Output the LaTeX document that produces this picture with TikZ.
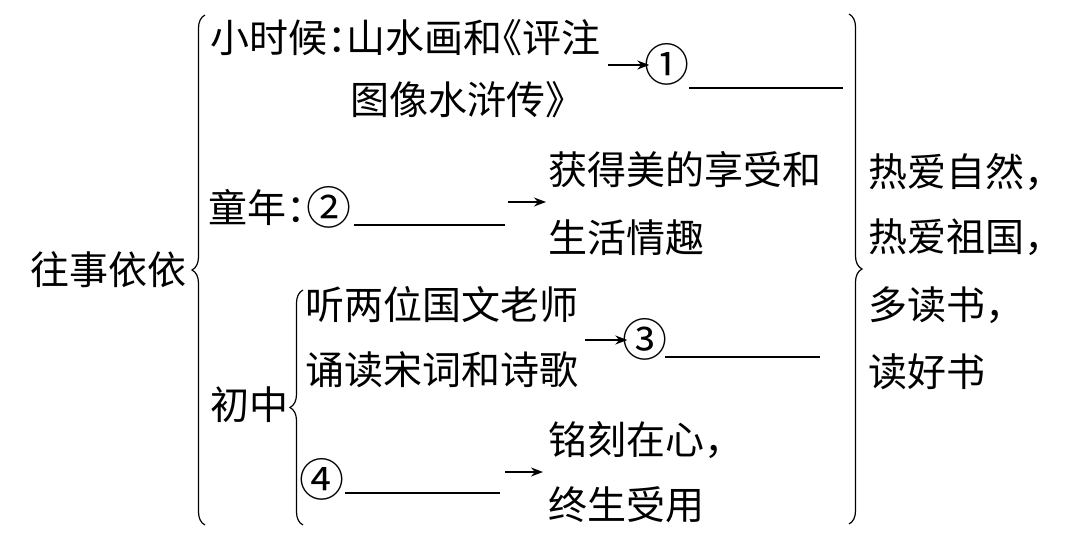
\documentclass[tikz,border=0pt]{standalone}
\usepackage{fontspec}
\setmainfont{Noto Sans CJK SC}
\usetikzlibrary{decorations.pathreplacing,arrows.meta}
\newcommand\hwpunct[1]{{\addfontfeature{RawFeature=+halt}#1}}
\begin{document}
\begin{tikzpicture}[x=1pt,y=-1pt,
  txt/.style={anchor=west,inner sep=0pt,font=\fontsize{39}{44}\selectfont,text height=31pt,text depth=2pt},
  num/.style={inner sep=0pt,font=\fontsize{45}{50}\selectfont,text height=35.8pt,text depth=2.2pt},
  brc/.style={draw,line width=1.2pt,decorate,decoration={brace,amplitude=13pt}},
  arr/.style={draw,line width=1.4pt,-{Stealth[length=12pt,width=9pt]}},
  blank/.style={draw,line width=1.4pt}]
\useasboundingbox (0,0) rectangle (1087,551);
\fill[white] (0,0) rectangle (1087,551);
% left column
\node[txt] (root) at (30,270) {往事依依};
\draw[brc] (205,525) -- (205,15);
% row 1
\node[txt] (r1a) at (210,38) {小时候\hwpunct{：}山水画和\hwpunct{《}评注};
\node[txt] (r1b) at (350,100) {图像水浒传》};
\coordinate (a1s) at (608,65);
\node[num] (c1) at (667,65) {①};
\coordinate (u1a) at (689,88);
\coordinate (u1b) at (843,88);
\draw[arr] (a1s) -- ([xshift=5pt]c1.west);
\draw[blank] (u1a) -- (u1b);
% row 2
\node[txt] (r2) at (208,208) {童年\hwpunct{：}};
\node[num,anchor=west] (c2) at ([xshift=0.5pt]r2.east) {②};
\coordinate (u2a) at (354,225);
\coordinate (u2b) at (505,225);
\draw[blank] (u2a) -- (u2b);
\node[txt] (r2ra) at (548,170) {获得美的享受和};
\node[txt] (r2rb) at (548,238) {生活情趣};
\coordinate (a2s) at (508,202);
\coordinate (a2e) at (546,202);
\draw[arr] (a2s) -- (a2e);
% row 3
\node[txt] (r3) at (210,405) {初中};
\draw[brc] (303,525) -- (303,290);
\node[txt] (r3a) at (305,305) {听两位国文老师};
\node[txt] (r3b) at (305,370) {诵读宋词和诗歌};
\coordinate (a3s) at (585,340);
\node[num] (c3) at (645,340) {③};
\draw[arr] (a3s) -- ([xshift=5pt]c3.west);
\coordinate (u3a) at (665,357);
\coordinate (u3b) at (820,357);
\draw[blank] (u3a) -- (u3b);
\node[num] (c4) at (322,480) {④};
\coordinate (u4a) at (345,493);
\coordinate (u4b) at (500,493);
\draw[blank] (u4a) -- (u4b);
\coordinate (a4s) at (505,472);
\coordinate (a4e) at (543,472);
\draw[arr] (a4s) -- (a4e);
\node[txt] (r4a) at (548,440) {铭刻在心，};
\node[txt] (r4b) at (548,505) {终生受用};
% right column
\draw[brc] (849,14) -- (849,524);
\node[txt] (s1) at (868,172) {热爱自然，};
\node[txt] (s2) at (868,237) {热爱祖国，};
\node[txt] (s3) at (868,305) {多读书，};
\node[txt] (s4) at (868,372) {读好书};
\end{tikzpicture}
\end{document}
